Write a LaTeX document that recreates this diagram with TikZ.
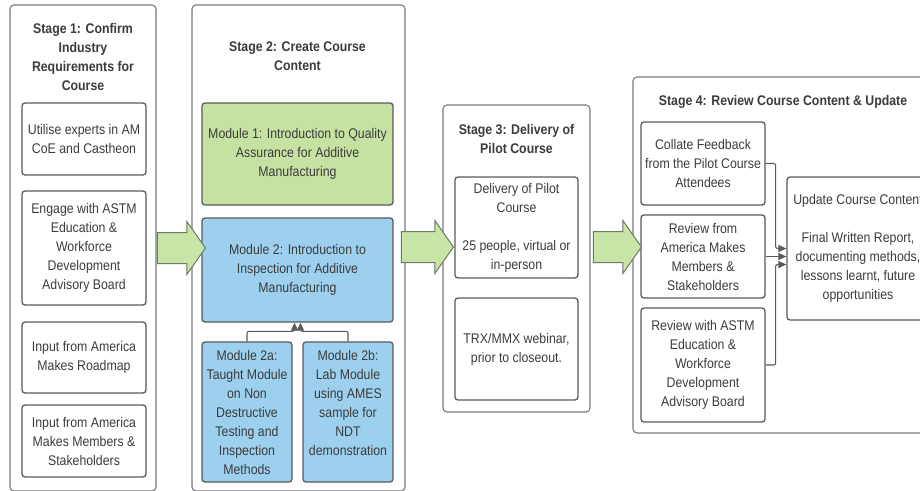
\documentclass[tikz,border=0pt]{standalone}
\usepackage{fontspec}
\setmainfont{Liberation Sans}[FakeStretch=0.88]
\usetikzlibrary{arrows.meta, positioning, shapes.arrows}

\definecolor{txtgray}{HTML}{3C3C3C}
\definecolor{stageline}{HTML}{7A7A7A}
\definecolor{boxline}{HTML}{5A5A5A}
\definecolor{modgreen}{HTML}{C6E2A2}
\definecolor{modblue}{HTML}{9DCFEE}
\definecolor{arrowgreen}{HTML}{C8E4A6}
\definecolor{arrowline}{HTML}{6E7A66}

\begin{document}
\begin{tikzpicture}[
    x=1pt, y=-1pt,
    stagebox/.style={draw=stageline, line width=1.1pt, rounded corners=4pt, inner sep=0pt},
    title/.style={font=\bfseries\fontsize{14}{19}\selectfont, align=center, text=txtgray, inner sep=0pt},
    item/.style={draw=boxline, line width=1.3pt, rounded corners=3pt, align=center, text=txtgray,
      font=\fontsize{14}{19}\selectfont, inner sep=2pt},
    greenmod/.style={item, fill=modgreen},
    bluemod/.style={item, fill=modblue},
    bigarrow/.style={single arrow, draw=arrowline, fill=arrowgreen, line width=1pt,
      inner xsep=0pt, inner ysep=15pt, single arrow head extend=11pt, single arrow tip angle=110},
    link/.style={draw=boxline, line width=1.1pt, rounded corners=2pt, -{Triangle[length=8pt, width=7pt]}},
    ]
    \fill[white] (0,0) rectangle (920,490);
    \useasboundingbox (0,0) rectangle (920,490);

    % Stage 1
    \node[stagebox, minimum width=146pt, minimum height=486pt] (stage1) at (83,248) {};
    \node[title] (s1title) at (83,57) {Stage 1: Confirm\\Industry\\Requirements for\\Course};
    \node[item, minimum width=124pt, minimum height=72pt] (experts) at (84,139) {Utilise experts in AM\\CoE and Castheon};
    \node[item, minimum width=124pt, minimum height=114pt] (board) at (84,248) {Engage with ASTM\\Education \&\\Workforce\\Development\\Advisory Board};
    \node[item, minimum width=124pt, minimum height=71pt] (roadmap) at (84,357.5) {Input from America\\Makes Roadmap};
    \node[item, minimum width=124pt, minimum height=72pt] (members) at (84,441) {Input from America\\Makes Members \&\\Stakeholders};

    % Stage 2
    \node[stagebox, minimum width=213pt, minimum height=486pt] (stage2) at (298.5,248) {};
    \node[title] (s2title) at (297.5,56) {Stage 2: Create Course\\Content};
    \node[greenmod, minimum width=191pt, minimum height=102pt] (m1) at (297.5,154) {Module 1: Introduction to Quality\\Assurance for Additive\\Manufacturing};
    \node[bluemod, minimum width=191pt, minimum height=104pt] (m2) at (297.5,270) {Module 2: Introduction to\\Inspection for Additive\\Manufacturing};
    \node[bluemod, minimum width=90pt, minimum height=140pt] (m2a) at (247,412) {Module 2a:\\Taught Module\\on Non\\Destructive\\Testing and\\Inspection\\Methods};
    \node[bluemod, minimum width=90pt, minimum height=140pt] (m2b) at (348,412) {Module 2b:\\Lab Module\\using AMES\\sample for\\NDT\\demonstration\\~};

    \draw[link] (m2a.north) -- ++(0,-10) -| ([xshift=-3pt]m2.south);
    \draw[link] (m2b.north) -- ++(0,-10) -| ([xshift=3pt]m2.south);

    % Stage 3
    \node[stagebox, minimum width=147pt, minimum height=307pt] (stage3) at (516.5,258.5) {};
    \node[title] (s3title) at (516.5,139) {Stage 3: Delivery of\\Pilot Course};
    \node[item, minimum width=123pt, minimum height=101pt] (pilot) at (516.5,227.5) {Delivery of Pilot\\Course\\[19pt]25 people, virtual or\\in-person};
    \node[item, minimum width=123pt, minimum height=102pt] (webinar) at (516.5,349) {TRX/MMX webinar,\\prior to closeout.};

    % Stage 4
    \node[stagebox, minimum width=294pt, minimum height=356pt] (stage4) at (780,255) {};
    \node[title] (s4title) at (783,102) {Stage 4: Review Course Content \& Update};
    \node[item, minimum width=124pt, minimum height=83pt] (feedback) at (703,163.5) {Collate Feedback\\from the Pilot Course\\Attendees};
    \node[item, minimum width=124pt, minimum height=83pt] (amreview) at (703,256.5) {Review from\\America Makes\\Members \&\\Stakeholders};
    \node[item, minimum width=124pt, minimum height=114pt] (astmreview) at (703,365) {Review with ASTM\\Education \&\\Workforce\\Development\\Advisory Board};
    \node[item, minimum width=142pt, minimum height=143pt] (update) at (858,248.5) {Update Course Content\\[19pt]Final Written Report,\\documenting methods,\\lessons learnt, future\\opportunities};

    \draw[link] (feedback.east) -- ++(10,0) |- (update.west);
    \draw[link] (amreview.east) -- (amreview.east -| update.west);
    \draw[link] (astmreview.east) -- ++(10,0) |- ([yshift=-16pt]update.west);

    % green arrows between stages
    \node[bigarrow, minimum height=48pt] (arrow12) at (176,248) {};
    \node[bigarrow, minimum height=52pt] (arrow23) at (422,247) {};
    \node[bigarrow, minimum height=48pt] (arrow34) at (612,247) {};
\end{tikzpicture}
\end{document}
